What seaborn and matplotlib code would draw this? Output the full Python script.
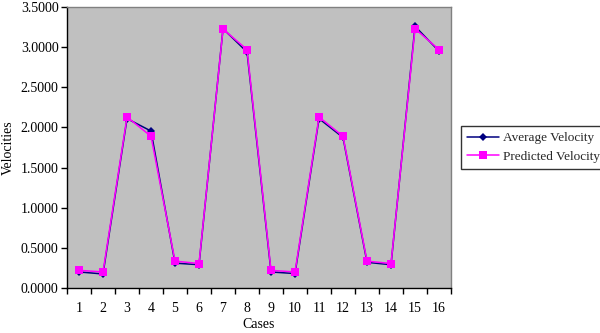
import matplotlib
matplotlib.use("Agg")
import matplotlib.pyplot as plt
import matplotlib.ticker as mticker
from matplotlib.lines import Line2D
import numpy as np
import pandas as pd
import seaborn as sns

cases = list(range(1, 17))
average_velocity = [0.20, 0.175, 2.11, 1.955, 0.31, 0.29, 3.23, 2.94,
                    0.20, 0.18, 2.11, 1.875, 0.32, 0.29, 3.26, 2.95]
predicted_velocity = [0.22, 0.20, 2.13, 1.89, 0.335, 0.305, 3.225, 2.97,
                      0.22, 0.20, 2.13, 1.89, 0.335, 0.305, 3.23, 2.97]
series_names = ["Average Velocity", "Predicted Velocity"]
y_ticks = [0.0, 0.5, 1.0, 1.5, 2.0, 2.5, 3.0, 3.5]

df = pd.DataFrame({
    "Cases": cases * 2,
    "Velocities": average_velocity + predicted_velocity,
    "Series": [series_names[0]] * len(cases) + [series_names[1]] * len(cases),
})

sns.set_theme(style="white")
plt.rcParams["font.family"] = ["Liberation Serif", "DejaVu Serif"]

fig = plt.figure(figsize=(6.0, 3.33), dpi=100)
ax = fig.add_axes([0.1117, 0.1351, 0.64, 0.8438])
ax.set_facecolor("#C0C0C0")

colors = {series_names[0]: "#000080", series_names[1]: "#FF00FF"}
markers = {series_names[0]: "D", series_names[1]: "s"}
marker_sizes = [4.0, 5.5]
sns.lineplot(data=df, x="Cases", y="Velocities", hue="Series", style="Series",
             palette=colors, markers=markers, dashes=False, linewidth=1.1,
             markeredgewidth=0, ax=ax, legend=False)
for line, ms in zip(ax.lines, marker_sizes):
    line.set_markersize(ms)

ax.set_xlim(0.5, 16.5)
ax.set_ylim(0, 3.5)
ax.set_yticks(y_ticks)
ax.yaxis.set_major_formatter(mticker.FormatStrFormatter("%.4f"))
ax.set_xticks(cases)
ax.set_xticklabels([str(c) for c in cases])
ax.set_xticks(np.arange(0.5, 17.0, 1.0), minor=True)
ax.tick_params(axis="x", which="major", length=0, pad=10, labelsize=10, colors="black")
ax.tick_params(axis="x", which="minor", length=4, width=1, direction="out",
               color="black", bottom=True)
ax.tick_params(axis="y", which="major", length=4, width=1, direction="out",
               left=True, labelsize=10, colors="black", pad=2)

for side in ["left", "bottom"]:
    ax.spines[side].set_color("black")
    ax.spines[side].set_linewidth(1.0)
for side in ["top", "right"]:
    ax.spines[side].set_color("#808080")
    ax.spines[side].set_linewidth(1.0)

ax.set_xlabel("Cases", fontsize=10, labelpad=2, color="black")
ax.set_ylabel("Velocities", fontsize=10, labelpad=4, color="black")

handles = [
    Line2D([], [], color=colors[name], marker=markers[name], markersize=ms,
           markeredgewidth=0, lw=1.1)
    for name, ms in zip(series_names, marker_sizes)
]
leg = fig.legend(handles, series_names, loc="upper left",
                 bbox_to_anchor=(461 / 600, 1 - 126 / 333),
                 frameon=True, fancybox=False, edgecolor="black",
                 fontsize=9.5, handlelength=2.4, handletextpad=0.3,
                 borderpad=0.45, labelspacing=0.5, borderaxespad=0)
leg.get_frame().set_linewidth(1.0)

fig.savefig("out.png", dpi=100, facecolor="white")
